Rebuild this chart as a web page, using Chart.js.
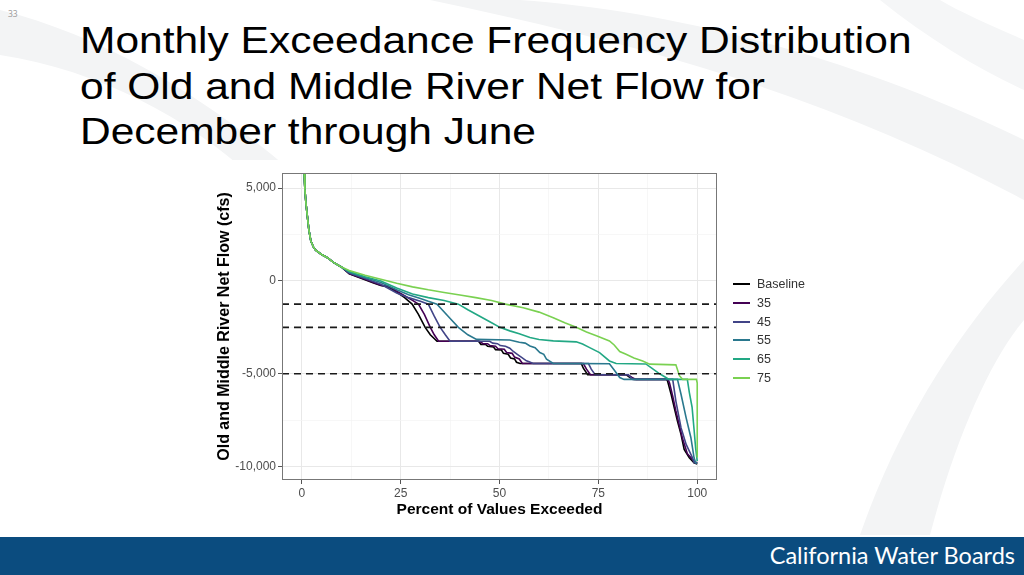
<!DOCTYPE html>
<html>
<head>
<meta charset="utf-8">
<script src="https://cdn.jsdelivr.net/npm/chart.js@4.4.1/dist/chart.umd.min.js"></script>
<style>
html,body{margin:0;padding:0;width:1024px;height:575px;overflow:hidden;background:#fff;font-family:"Liberation Sans",Arial,sans-serif;}
#slide{position:relative;width:1024px;height:575px;overflow:hidden;}
#bg{position:absolute;left:0;top:0;}
#num{position:absolute;left:8px;top:9px;font-size:8.5px;line-height:10px;color:#999;font-family:"Open Sans",sans-serif;}
#title{position:absolute;left:80px;top:17.7px;font-size:42.5px;line-height:51.5px;color:#000;white-space:nowrap;transform:scaleY(0.88);transform-origin:0 0;}
#plotbox{position:absolute;left:200px;top:160px;width:640px;height:360px;background:#fff;}
#legend{position:absolute;left:733px;top:275px;font-size:12.5px;color:#333;}
.lrow{position:relative;height:18.8px;}
.lkey{position:absolute;left:0;top:8px;width:17px;height:2px;}
.llab{position:absolute;left:24px;top:2px;line-height:14px;}
#footer{position:absolute;left:0;top:537px;width:1024px;height:38px;background:#0b4c7f;}
#footer span{position:absolute;right:9px;top:4px;color:#fff;font-family:Lato,"Open Sans",sans-serif;font-size:23.5px;}
</style>
</head>
<body>
<div id="slide">
  <svg id="bg" width="1024" height="575">
    <path d="M0,10 C120,40 220,110 290,170 L250,175 C190,120 100,70 0,55 Z" fill="#f3f4f5"/>
    <path d="M430,0 C620,40 820,90 1024,200 L1024,140 C840,50 660,10 520,0 Z" fill="#f3f4f5"/>
    <path d="M1024,260 C960,330 900,420 860,535 L930,535 C955,440 990,360 1024,320 Z" fill="#f3f4f5"/>
    <path d="M880,0 C930,40 980,70 1024,90 L1024,40 C990,25 960,12 940,0 Z" fill="#f5f6f7"/>
  </svg>
  <div id="num">33</div>
  <div id="title">Monthly Exceedance Frequency Distribution<br>of Old and Middle River Net Flow for<br>December through June</div>
  <div id="plotbox"><canvas id="c" width="640" height="360"></canvas></div>
  <div id="legend"></div>
  <div id="footer"><span>California Water Boards</span></div>
</div>
<script>
// ---- data ----
const seriesNames = ['Baseline','35','45','55','65','75'];
const seriesColors = ['#000000','#440154','#414487','#2A788E','#22A884','#7AD151'];
const thresholds = [-1250,-2500,-5000];
const xTicks = [0,12.5,25,37.5,50,62.5,75,87.5,100];
const xMajor = [0,25,50,75,100];
const yTicks = [-10000,-7500,-5000,-2500,0,2500,5000];
const yMajor = [-10000,-5000,0,5000];

const pctBaseline = [0.1,0.35,0.6,0.8,1.05,1.4,1.8,2.3,3.0,3.5,5,6.5,8,10,12,16,18,20,22,24,26,27.9,29.5,31.2,32.5,34.2,44.7,45.3,46.5,47,48.5,49,50.5,51,52.2,52.8,53.8,54.3,55.2,70.7,71.2,72.3,82,83,84,92.2,92.5,93.4,94.2,95,95.9,96.7,98,99.2,100];
const flowBaseline = [9500,7200,5800,4900,4200,3500,2750,2150,1800,1650,1420,1250,1000,750,380,60,-100,-250,-330,-600,-900,-1250,-1800,-2500,-2900,-3250,-3250,-3420,-3420,-3520,-3560,-3700,-3720,-3900,-3950,-4150,-4200,-4380,-4450,-4450,-4700,-5050,-5050,-5200,-5300,-5300,-5390,-6100,-6830,-7540,-8260,-9070,-9520,-9790,-9850];

const pct35 = [0.1,0.35,0.6,0.8,1.05,1.4,1.8,2.3,3.0,3.5,5,6.5,8,10,12,16,18,20,22,24,26,28,29.5,31,32.5,33.5,34.6,45,45.8,47,47.6,49,49.6,51.2,51.8,53.2,53.8,55,55.8,71.2,72,73,82.5,83.5,84.5,92.6,93,93.8,94.6,95.4,96.3,97.5,99.2,100];
const flow35 = [9500,7200,5800,4900,4200,3500,2750,2150,1800,1650,1420,1250,1000,750,400,90,-70,-230,-300,-550,-800,-1050,-1250,-1800,-2500,-2900,-3250,-3250,-3380,-3380,-3480,-3520,-3650,-3680,-3850,-3900,-4100,-4200,-4450,-4450,-4750,-5050,-5050,-5200,-5300,-5300,-5500,-6200,-7000,-7700,-8500,-9300,-9700,-9800];

const pct45 = [0.1,0.35,0.6,0.8,1.05,1.4,1.8,2.3,3.0,3.5,5,6.5,8,10,12,16,20,24,27,30,32,33.5,35,36.3,37.5,47.5,48.3,49.5,50.2,51.5,52.6,53.5,54.5,55.5,56.8,57.5,58.5,72.5,73.2,74.2,82.5,83.7,93.8,94.6,95.9,97.2,98.8,99.2,100];
const flow45 = [9500,7200,5800,4900,4200,3500,2750,2150,1800,1650,1420,1250,1000,750,430,130,-180,-650,-900,-1100,-1250,-1900,-2500,-2900,-3250,-3250,-3350,-3380,-3480,-3520,-3620,-3800,-3950,-4100,-4300,-4350,-4450,-4450,-4750,-5050,-5050,-5300,-5300,-6470,-7900,-8800,-9520,-9790,-9800];

const pct55 = [0.1,0.35,0.6,0.8,1.05,1.4,1.8,2.3,3.0,3.5,5,6.5,8,10,12,16,20,24,27,30,32,34.2,37,39.6,42,44.2,52.6,55,56.5,57.7,59,60.2,61.2,61.9,63.6,77.8,79,80.4,81.5,95,95.9,97.2,98.4,99.2,99.6,100];
const flow55 = [9500,7200,5800,4900,4200,3500,2750,2150,1800,1650,1420,1250,1000,750,470,180,-90,-480,-750,-950,-1100,-1250,-1900,-2500,-2900,-3150,-3180,-3300,-3350,-3500,-3600,-3860,-3950,-4220,-4440,-4460,-4800,-5200,-5300,-5300,-6100,-7370,-8440,-9520,-9790,-9800];

const pct65 = [0.1,0.35,0.6,0.8,1.05,1.4,1.8,2.3,3.0,3.5,5,6.5,8,10,12,16,20,24,28,32,36,39.6,42,45,48,50.1,52.6,55,57.7,60,63.6,69.4,71,72.8,75.3,77.8,79.5,87,88.5,90.5,92.5,93,97.5,98,98.7,99.2,99.6,100];
const flow65 = [9500,7200,5800,4900,4200,3500,2750,2150,1800,1650,1420,1250,1000,750,500,220,0,-380,-700,-900,-1050,-1250,-1550,-1900,-2250,-2500,-2690,-2850,-3050,-3150,-3230,-3280,-3400,-3590,-3860,-4310,-4450,-4470,-4700,-5000,-5250,-5300,-5300,-6000,-6800,-8000,-9000,-9700];

const pct75 = [0.1,0.35,0.6,0.8,1.05,1.4,1.8,2.3,3.0,3.5,5,6.5,8,10,12,16,20,24,28,32,36,40,44,48,51.5,56,60,63.6,66.5,69.4,72,74.5,77.8,79,80.4,82,84,86.2,88,94.6,95.5,96.3,99.8,100,100];
const flow75 = [9500,7200,5800,4900,4200,3500,2750,2150,1800,1650,1420,1250,1000,750,560,300,90,-130,-320,-480,-620,-760,-900,-1050,-1250,-1450,-1680,-1980,-2250,-2500,-2750,-2950,-3230,-3450,-3800,-3950,-4150,-4310,-4480,-4520,-5100,-5300,-5300,-5500,-9500];

const xMin = -5, xMax = 105, yMin = -10717, yMax = 5808;

// ---- build ----
const pctSets = [pctBaseline, pct35, pct45, pct55, pct65, pct75];
const flowSets = [flowBaseline, flow35, flow45, flow55, flow65, flow75];

const datasets = seriesNames.map((name, i) => ({
  label: name,
  data: pctSets[i].map((x, j) => ({x: x, y: flowSets[i][j]})),
  borderColor: seriesColors[i],
  backgroundColor: seriesColors[i],
  borderWidth: 1.6,
  pointRadius: 0,
  showLine: true,
  tension: 0,
  order: seriesNames.length - i + 1
}));
thresholds.forEach(t => datasets.push({
  label: '',
  data: [{x: xMin, y: t}, {x: xMax, y: t}],
  borderColor: '#1a1a1a',
  borderWidth: 1.6,
  borderDash: [7, 5],
  pointRadius: 0,
  showLine: true,
  order: 0
}));

// legend (HTML)
const leg = document.getElementById('legend');
seriesNames.forEach((n, i) => {
  const r = document.createElement('div'); r.className = 'lrow';
  const k = document.createElement('div'); k.className = 'lkey'; k.style.background = seriesColors[i];
  const l = document.createElement('div'); l.className = 'llab'; l.textContent = n;
  r.appendChild(k); r.appendChild(l); leg.appendChild(r);
});

const borderPlugin = {
  id: 'panelBorder',
  afterDraw(chart) {
    const a = chart.chartArea, ctx = chart.ctx;
    ctx.save();
    ctx.strokeStyle = '#777';
    ctx.lineWidth = 1;
    ctx.strokeRect(Math.round(a.left) + 0.5, Math.round(a.top) + 0.5, Math.round(a.right - a.left) - 1, Math.round(a.bottom - a.top) - 1);
    ctx.restore();
  }
};

const tickFont = {family: '"Liberation Sans", Arial, sans-serif', size: 12};
new Chart(document.getElementById('c'), {
  type: 'scatter',
  data: {datasets: datasets},
  plugins: [borderPlugin],
  options: {
    responsive: false,
    animation: false,
    layout: {padding: {left: 0, top: 13, right: 123, bottom: 0}},
    plugins: {legend: {display: false}, tooltip: {enabled: false}},
    scales: {
      x: {
        type: 'linear', min: xMin, max: xMax,
        afterBuildTicks: s => { s.ticks = xTicks.map(v => ({value: v})); },
        afterFit: s => { s.height = 40; },
        ticks: {autoSkip: false, maxRotation: 0, padding: 2, color: '#4d4d4d', font: tickFont,
          callback: v => xMajor.includes(v) ? String(v) : ''},
        grid: {
          color: c => (c.tick && xMajor.includes(c.tick.value)) ? '#e8e8e8' : '#f3f3f3',
          lineWidth: c => (c.tick && xMajor.includes(c.tick.value)) ? 1 : 0.7,
          tickColor: c => (c.tick && xMajor.includes(c.tick.value)) ? '#555' : 'rgba(0,0,0,0)',
          tickLength: 4
        },
        border: {display: false},
        title: {display: true, text: 'Percent of Values Exceeded', color: '#000',
          font: {family: '"Liberation Sans", Arial, sans-serif', size: 15.5, weight: 'bold'},
          padding: {top: 0, bottom: 0.5}}
      },
      y: {
        type: 'linear', min: yMin, max: yMax,
        afterBuildTicks: s => { s.ticks = yTicks.map(v => ({value: v})); },
        afterFit: s => { s.width = 82; },
        ticks: {autoSkip: false, padding: 2, color: '#4d4d4d', font: tickFont,
          callback: v => yMajor.includes(v) ? v.toLocaleString('en-US') : ''},
        grid: {
          color: c => (c.tick && yMajor.includes(c.tick.value)) ? '#e8e8e8' : '#f3f3f3',
          lineWidth: c => (c.tick && yMajor.includes(c.tick.value)) ? 1 : 0.7,
          tickColor: c => (c.tick && yMajor.includes(c.tick.value)) ? '#555' : 'rgba(0,0,0,0)',
          tickLength: 4
        },
        border: {display: false},
        title: {display: true, text: 'Old and Middle River Net Flow (cfs)', color: '#000',
          font: {family: '"Liberation Sans", Arial, sans-serif', size: 16, weight: 'bold'},
          padding: {top: 14.5, bottom: 0}}
      }
    }
  }
});
</script>
</body>
</html>
